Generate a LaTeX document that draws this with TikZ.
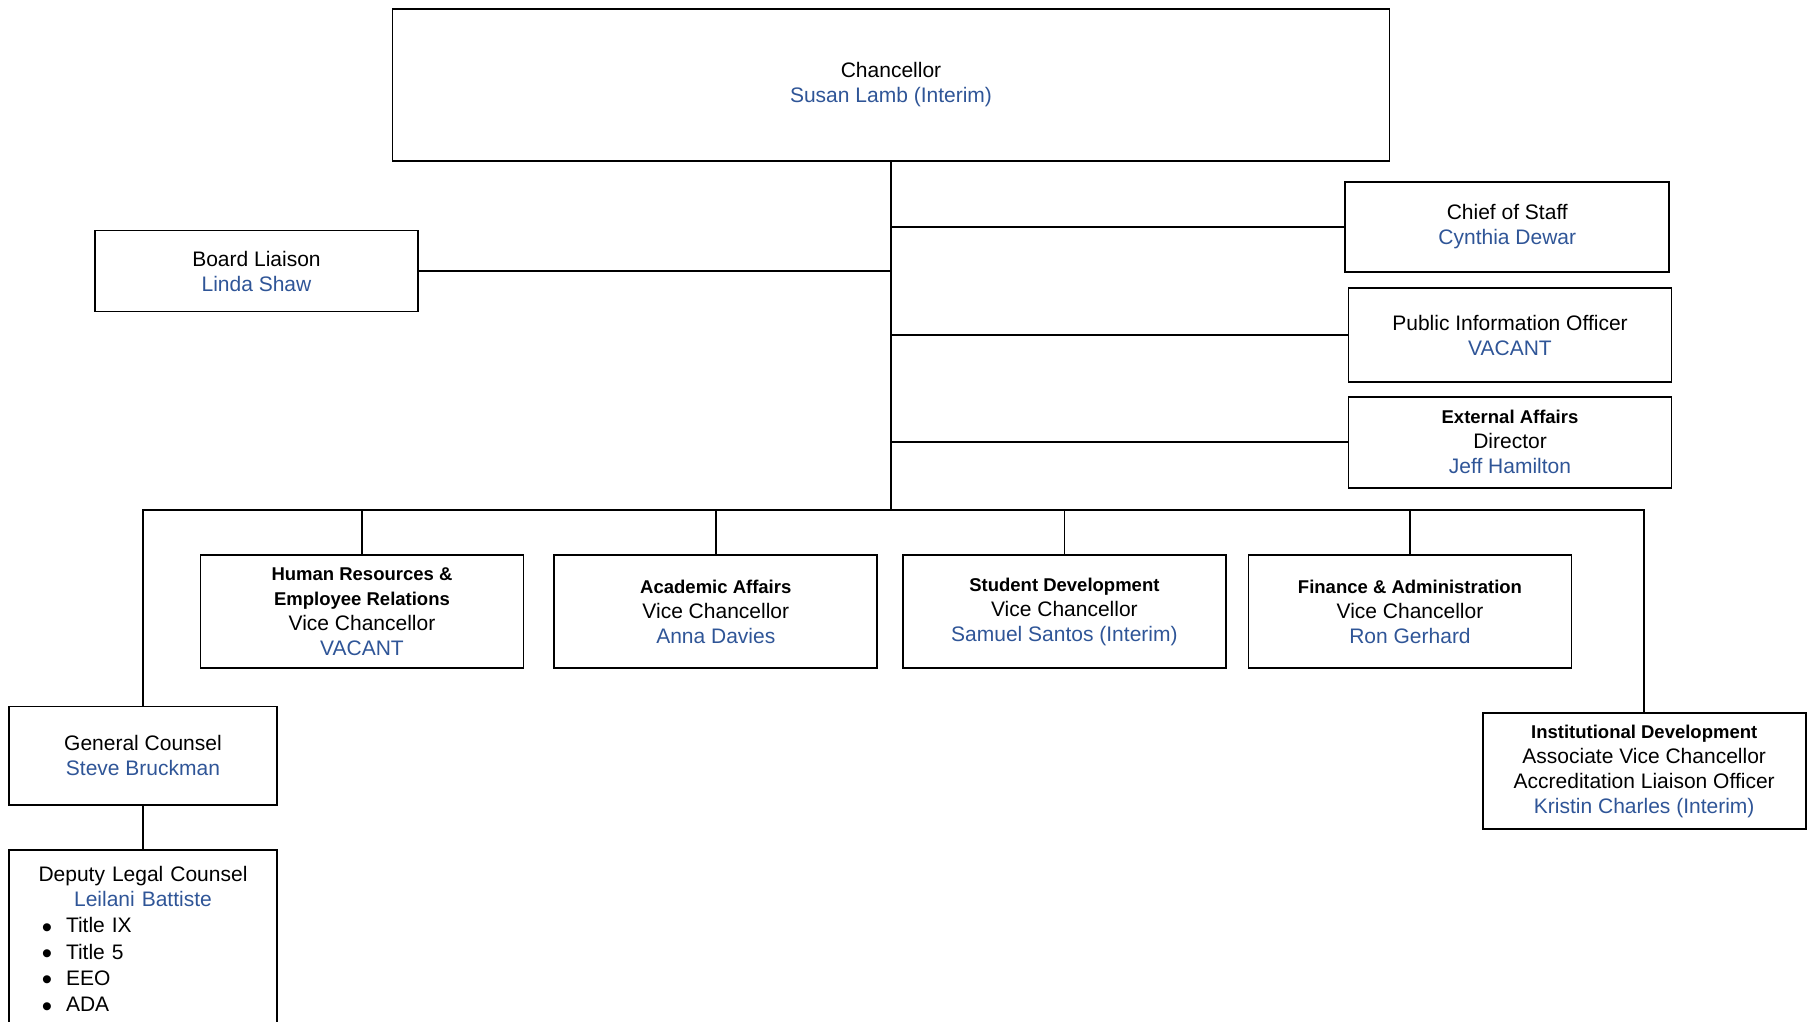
\documentclass[tikz,border=0pt]{standalone}
\usepackage{fontspec}
\setmainfont{Liberation Sans}
\usetikzlibrary{positioning}
\definecolor{namecolor}{RGB}{47,85,151}
\newcommand{\who}[1]{\textcolor{namecolor}{#1}}
\newcommand{\unitname}[1]{{\bfseries\fontsize{18.5}{22}\selectfont #1}}
\newcommand{\duty}[1]{\hspace*{24pt}\makebox[24pt][l]{\raisebox{-4.5pt}{\scalebox{1.4}{\textbullet}}}#1}

\begin{document}
\begin{tikzpicture}[x=1pt, y=-1pt,
    orgbox/.style={rectangle, draw, line width=1.8pt, inner sep=0pt, align=center, font=\fontsize{21}{25}\selectfont, minimum width=323},
    vcbox/.style={orgbox, minimum height=113.5},
    link/.style={line width=1.8pt},
]
    \useasboundingbox (0,0) rectangle (1816,1021);

    % Top
    \node[orgbox, minimum width=997, minimum height=152] (chancellor) at (891, 85) {Chancellor\\\who{Susan Lamb (Interim)}};
    \coordinate (hub) at (891, 509.6);

    % Staff around the chancellor
    \node[orgbox, minimum height=81] (board) at (256.5, 271) {Board Liaison\\\who{Linda Shaw}};
    \node[orgbox, minimum width=324, minimum height=90] (chief) at (1507.3, 227) {Chief of Staff\\\who{Cynthia Dewar}};
    \node[orgbox, minimum height=94] (pio) at (1510, 335.3) {Public Information Officer\\\who{VACANT}};
    \node[orgbox, minimum height=91] (extaff) at (1510, 442.2) {\unitname{External Affairs}\\Director\\\who{Jeff Hamilton}};

    % Vice chancellors
    \node[vcbox] (hr) at (362, 611.5) {\unitname{Human Resources \&}\\\unitname{Employee Relations}\\Vice Chancellor\\\who{VACANT}};
    \node[vcbox] (acad) at (715.8, 611.5) {\unitname{Academic Affairs}\\Vice Chancellor\\\who{Anna Davies}};
    \node[vcbox] (stud) at (1064.4, 611.5) {\unitname{Student Development}\\Vice Chancellor\\\who{Samuel Santos (Interim)}};
    \node[vcbox] (fin) at (1410, 611.5) {\unitname{Finance \& Administration}\\Vice Chancellor\\\who{Ron Gerhard}};

    % Outer ends of the bus
    \node[orgbox, minimum width=267.4, minimum height=98.5] (gc) at (143, 755.8) {General Counsel\\\who{Steve Bruckman}};
    \node[orgbox, minimum height=116] (inst) at (1644.2, 771.3) {\unitname{Institutional Development}\\Associate Vice Chancellor\\Accreditation Liaison Officer\\\who{Kristin Charles (Interim)}};
    \node[orgbox, anchor=north, minimum width=267.4, minimum height=182, text width=250, align=left] (deputy) at (143, 849.3) {%
        \centering Deputy Legal Counsel\\\who{Leilani Battiste}\par
        \raggedright\baselineskip=26.3pt
        \duty{Title IX}\\\duty{Title 5}\\\duty{EEO}\\\duty{ADA}\par};

    % Connectors
    \draw[link] (chancellor.south) -- (hub);
    \draw[link] (board.east) -- (board.east -| hub);
    \draw[link] (chief.west) -- (chief.west -| hub);
    \draw[link] (pio.west) -- (pio.west -| hub);
    \draw[link] (extaff.west) -- (extaff.west -| hub);
    \draw[link] (gc.north) |- (hub) -| (inst.north);
    \foreach \unit in {hr, acad, stud, fin}
        \draw[link] (\unit.north) -- (\unit.north |- hub);
    \draw[link] (gc.south) -- (deputy.north);
\end{tikzpicture}
\end{document}
